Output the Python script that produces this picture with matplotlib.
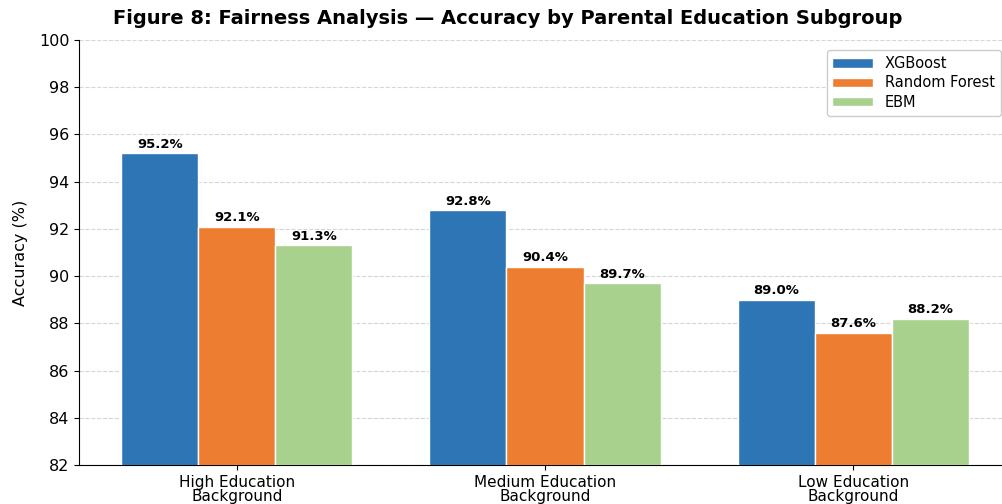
import matplotlib
matplotlib.use("Agg")
import matplotlib.pyplot as plt
import numpy as np

# 各教育背景分组的准确率
groups = ['High Education\nBackground', 'Medium Education\nBackground', 'Low Education\nBackground']
models = ['XGBoost', 'Random Forest', 'EBM']
xgb = [95.2, 92.8, 89.0]
rf = [92.1, 90.4, 87.6]
ebm = [91.3, 89.7, 88.2]
colors = ['#2E75B6', '#ED7D31', '#A9D18E']

fig = plt.figure(figsize=(10.02, 5.04), dpi=100)
ax = fig.add_axes([79 / 1002, 39 / 504, (1011 - 79) / 1002, (465 - 40) / 504])

x = np.arange(len(groups))
w = 0.25
for i, (vals, name) in enumerate(zip([xgb, rf, ebm], models)):
    bars = ax.bar(x + (i - 1) * w, vals, w, color=colors[i], edgecolor='white',
                  linewidth=1, label=name, zorder=3)
    for b, v in zip(bars, vals):
        ax.text(b.get_x() + b.get_width() / 2, v + 0.1, f'{v:.1f}%',
                ha='center', va='bottom', fontsize=9.5, fontweight='bold', zorder=4)

ax.set_ylim(82, 100)
ax.set_yticks(np.arange(82, 101, 2))
ax.set_xlim(-0.5125, 2.5125)
ax.set_xticks(x)
ax.set_xticklabels(groups, fontsize=11, linespacing=0.95)
ax.tick_params(axis='y', labelsize=11.5)
ax.set_ylabel('Accuracy (%)', fontsize=11.5, labelpad=8)
ax.yaxis.grid(True, linestyle='--', color='#cccccc', alpha=0.8, zorder=0)
ax.spines['top'].set_visible(False)
ax.spines['right'].set_visible(False)
ax.legend(loc='upper right', fontsize=10.5, framealpha=1, handlelength=2.8,
          handleheight=0.6, labelspacing=0.3, borderaxespad=0.7)

fig.text(508 / 1002, 1 - 18 / 504, 'Figure 8: Fairness Analysis — Accuracy by Parental Education Subgroup',
         ha='center', va='center', fontsize=14, fontweight='bold')

fig.savefig('out.png', dpi=100)
